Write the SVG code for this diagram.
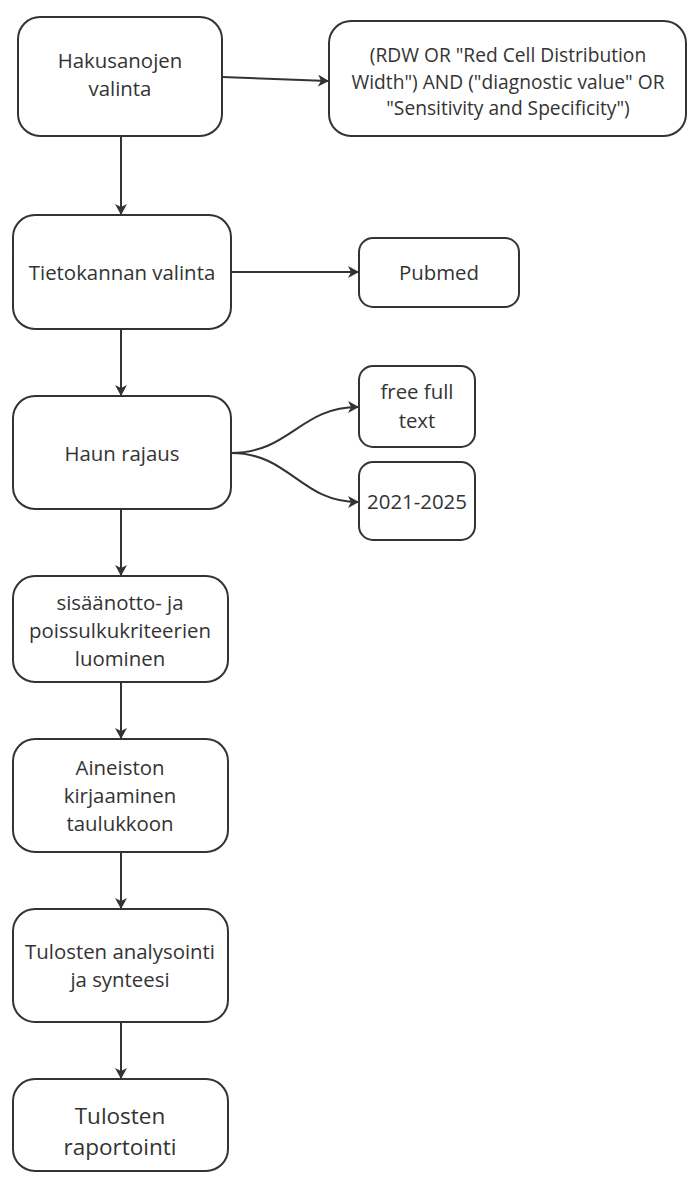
<svg xmlns="http://www.w3.org/2000/svg" width="688" height="1178" viewBox="0 0 688 1178">
<style>
.box{fill:#fff;stroke:#333;stroke-width:2}
.t{font-family:"Open Sans","Liberation Sans",sans-serif;font-size:20.4px;fill:#333;text-anchor:middle}
.sm{font-size:19.2px}
.big{font-size:22.5px}
.c{fill:none;stroke:#333;stroke-width:2}
</style>
<defs>
<marker id="ah" markerWidth="12" markerHeight="12" refX="10" refY="6" orient="auto" markerUnits="userSpaceOnUse">
<path d="M0,0 L11,6 L0,12 L3,6 Z" fill="#333"/>
</marker>
</defs>
<rect width="688" height="1178" fill="#fff"/>
<g id="connectors">
<path class="c" d="M222,77 L328,81" marker-end="url(#ah)"/>
<path class="c" d="M121,136 L121,214" marker-end="url(#ah)"/>
<path class="c" d="M231,272 L358,272" marker-end="url(#ah)"/>
<path class="c" d="M121,329 L121,395" marker-end="url(#ah)"/>
<path class="c" d="M231,453 C290,453 300,407 358,407" marker-end="url(#ah)"/>
<path class="c" d="M231,453 C290,453 300,502 358,502" marker-end="url(#ah)"/>
<path class="c" d="M121,509 L121,575" marker-end="url(#ah)"/>
<path class="c" d="M121,682 L121,738" marker-end="url(#ah)"/>
<path class="c" d="M121,852 L121,908" marker-end="url(#ah)"/>
<path class="c" d="M121,1022 L121,1078" marker-end="url(#ah)"/>
</g>
<g id="n1"><rect class="box" x="18" y="17" width="204" height="119" rx="22"/>
<text class="t" x="120" y="68">Hakusanojen</text><text class="t" x="120" y="96">valinta</text></g>
<g id="n2"><rect class="box" x="329" y="21" width="357" height="115" rx="22"/>
<text class="t sm" x="508" y="62">(RDW OR "Red Cell Distribution</text>
<text class="t sm" x="508" y="88.5">Width") AND ("diagnostic value" OR</text>
<text class="t sm" x="508" y="115">"Sensitivity and Specificity")</text></g>
<g id="n3"><rect class="box" x="13" y="215" width="218" height="114" rx="22"/>
<text class="t" x="122" y="280">Tietokannan valinta</text></g>
<g id="n4"><rect class="box" x="359" y="238" width="160" height="69" rx="14"/>
<text class="t" x="439" y="280">Pubmed</text></g>
<g id="n5"><rect class="box" x="13" y="396" width="218" height="113" rx="22"/>
<text class="t" x="122" y="461">Haun rajaus</text></g>
<g id="n6"><rect class="box" x="359" y="366" width="116" height="81" rx="14"/>
<text class="t" x="417" y="399">free full</text><text class="t" x="417" y="428">text</text></g>
<g id="n7"><rect class="box" x="359" y="462" width="116" height="78" rx="14"/>
<text class="t" x="417" y="509">2021-2025</text></g>
<g id="n8"><rect class="box" x="13" y="576" width="215" height="106" rx="22"/>
<text class="t" x="120" y="610">sisäänotto- ja</text>
<text class="t" x="120" y="638">poissulkukriteerien</text>
<text class="t" x="120" y="666">luominen</text></g>
<g id="n9"><rect class="box" x="13" y="739" width="215" height="113" rx="22"/>
<text class="t" x="120" y="775">Aineiston</text>
<text class="t" x="120" y="803">kirjaaminen</text>
<text class="t" x="120" y="831">taulukkoon</text></g>
<g id="n10"><rect class="box" x="13" y="909" width="215" height="113" rx="22"/>
<text class="t" x="120" y="959">Tulosten analysointi</text>
<text class="t" x="120" y="987">ja synteesi</text></g>
<g id="n11"><rect class="box" x="13" y="1079" width="215" height="92" rx="22"/>
<text class="t big" x="120" y="1124">Tulosten</text>
<text class="t big" x="120" y="1155">raportointi</text></g>
</svg>
